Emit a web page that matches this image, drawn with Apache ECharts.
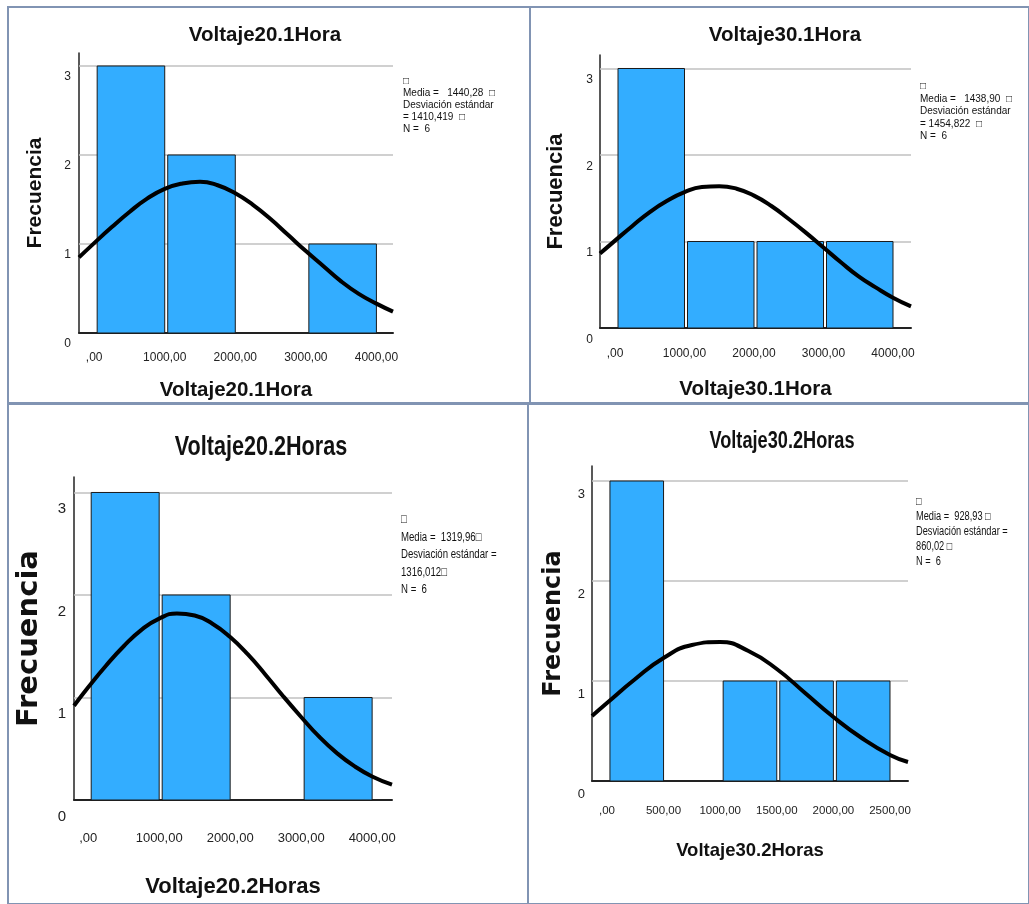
<!DOCTYPE html>
<html>
<head>
<meta charset="utf-8">
<title>Histogramas Voltaje</title>
<script src="https://cdn.jsdelivr.net/npm/echarts@6.0.0/dist/echarts.min.js"></script>
<style>
  html, body { margin: 0; padding: 0; background: #fff; }
  #main { width: 1029px; height: 904px; }
</style>
</head>
<body>
<div id="main"></div>
<script>
// histogram bins: [desde, hasta, frecuencia]
var bins20_1h = [[0, 1000, 3], [1000, 2000, 2], [3000, 4000, 1]]
var bins30_1h = [[0, 1000, 3], [1000, 2000, 1], [2000, 3000, 1], [3000, 4000, 1]]
var bins20_2h = [[0, 1000, 3], [1000, 2000, 2], [3000, 4000, 1]]
var bins30_2h = [[0, 500, 3], [1000, 1500, 1], [1500, 2000, 1], [2000, 2500, 1]]

// normal curve, points
var curve20_1h = [[-215, 0.85], [0, 1.01], [250, 1.19], [500, 1.36], [750, 1.51], [1000, 1.62], [1250, 1.68], [1500, 1.70], [1750, 1.66], [2000, 1.57], [2250, 1.44], [2500, 1.28], [2750, 1.10], [3000, 0.92], [3250, 0.75], [3500, 0.58], [3750, 0.44], [4000, 0.33], [4235, 0.24]]
var curve30_1h = [[-216, 0.86], [0, 1.01], [250, 1.18], [500, 1.34], [750, 1.47], [1000, 1.57], [1250, 1.63], [1500, 1.64], [1750, 1.61], [2000, 1.53], [2250, 1.41], [2500, 1.26], [2750, 1.10], [3000, 0.93], [3250, 0.76], [3500, 0.60], [3750, 0.47], [4000, 0.35], [4259, 0.25]]
var curve20_2h = [[-200, 0.92], [0, 1.10], [250, 1.31], [500, 1.50], [750, 1.66], [1000, 1.77], [1250, 1.82], [1500, 1.80], [1750, 1.72], [2000, 1.59], [2250, 1.42], [2500, 1.22], [2750, 1.01], [3000, 0.81], [3250, 0.62], [3500, 0.46], [3750, 0.33], [4000, 0.23], [4280, 0.15]]
var curve30_2h = [[-132, 0.65], [0, 0.78], [250, 1.02], [500, 1.23], [750, 1.36], [1000, 1.39], [1250, 1.30], [1500, 1.12], [1750, 0.88], [2000, 0.64], [2250, 0.43], [2500, 0.26], [2659, 0.19]]

var ticks4000 = [0, 1000, 2000, 3000, 4000]
var ticks2500 = [0, 500, 1000, 1500, 2000, 2500]
var freqTicks = [0, 1, 2, 3]

var stats20_1h = ['\u25A1', 'Media =   1440,28  \u25A1', 'Desviación estándar', '= 1410,419  \u25A1', 'N =  6']
var stats30_1h = ['\u25A1', 'Media =   1438,90  \u25A1', 'Desviación estándar', '= 1454,822  \u25A1', 'N =  6']
var stats20_2h = ['\u25A1', 'Media =  1319,96\u25A1', 'Desviación estándar =', '1316,012\u25A1', 'N =  6']
var stats30_2h = ['\u25A1', 'Media =  928,93 \u25A1', 'Desviación estándar =', '860,02 \u25A1', 'N =  6']

var SANS = '"Liberation Sans", Arial, sans-serif'
var SPREAD = '"DejaVu Sans", sans-serif'

var panels = [
  {
    name: 'Voltaje20.1Hora', bins: bins20_1h, curve: curve20_1h, ticks: ticks4000, stats: stats20_1h,
    box: [8, 7, 522, 396], grid: { left: 79, top: 53, width: 314, height: 280 },
    xMin: -215, xMax: 4235, yMax: 3.146,
    titleAt: [265, 35], titleFont: 'bold 20.5px ' + SANS, titleScale: 1,
    tickSize: 12, yTickSize: 12, xMargin: 19, yMargin: 8, yLH: 21,
    nameSize: 20.5, nameGap: 47,
    yNameSize: 21, yNameGap: 33, yNameFont: SANS,
    statsAt: [403, 75], statsFont: '10px ' + SANS, statsLH: 12, statsScale: 1
  },
  {
    name: 'Voltaje30.1Hora', bins: bins30_1h, curve: curve30_1h, ticks: ticks4000, stats: stats30_1h,
    box: [530, 7, 499, 396], grid: { left: 600, top: 55, width: 311, height: 273 },
    xMin: -216, xMax: 4259, yMax: 3.156,
    titleAt: [785, 35], titleFont: 'bold 20.5px ' + SANS, titleScale: 1,
    tickSize: 12, yTickSize: 12, xMargin: 20, yMargin: 7, yLH: 23,
    nameSize: 20.5, nameGap: 51,
    yNameSize: 22, yNameGap: 33, yNameFont: SANS,
    statsAt: [920, 80], statsFont: '10px ' + SANS, statsLH: 12.5, statsScale: 1
  },
  {
    name: 'Voltaje20.2Horas', bins: bins20_2h, curve: curve20_2h, ticks: ticks4000, stats: stats20_2h,
    box: [8, 404, 520, 500], grid: { left: 74, top: 477, width: 318, height: 323 },
    xMin: -200, xMax: 4280, yMax: 3.151,
    titleAt: [261, 448], titleFont: 'bold 27px ' + SANS, titleScale: 0.8,
    tickSize: 13, yTickSize: 15, xMargin: 32, yMargin: 8, yLH: 33,
    nameSize: 22, nameGap: 76,
    yNameSize: 29, yNameGap: 30, yNameFont: SPREAD,
    statsAt: [401, 511], statsFont: '12.5px ' + SANS, statsLH: 17.5, statsScale: 0.77
  },
  {
    name: 'Voltaje30.2Horas', bins: bins30_2h, curve: curve30_2h, ticks: ticks2500, stats: stats30_2h,
    box: [528, 404, 501, 500], grid: { left: 592, top: 466, width: 316, height: 315 },
    xMin: -132, xMax: 2659, yMax: 3.15,
    titleAt: [782, 442], titleFont: 'bold 23px ' + SANS, titleScale: 0.79,
    tickSize: 11.5, yTickSize: 13, xMargin: 24, yMargin: 7, yLH: 27,
    nameSize: 18.5, nameGap: 60,
    yNameSize: 24, yNameGap: 26, yNameFont: SPREAD,
    statsAt: [916, 494], statsFont: '12px ' + SANS, statsLH: 15, statsScale: 0.77
  }
]

function renderBin(params, api) {
  var start = api.coord([api.value(0), 0])
  var end = api.coord([api.value(1), api.value(2)])
  return {
    type: 'rect',
    shape: { x: start[0] + 3, y: end[1], width: end[0] - start[0] - 3, height: start[1] - end[1] },
    style: { fill: '#33adff', stroke: '#1a1a1a', lineWidth: 1 }
  }
}

var option = {
  backgroundColor: '#fff',
  animation: false,
  grid: [],
  xAxis: [],
  yAxis: [],
  series: [],
  graphic: []
}

panels.forEach(function (p, i) {
  option.grid.push({
    left: p.grid.left, top: p.grid.top, width: p.grid.width, height: p.grid.height,
    outerBoundsMode: 'none'
  })
  option.xAxis.push({
    type: 'value',
    gridIndex: i,
    min: p.xMin,
    max: p.xMax,
    name: p.name,
    nameLocation: 'middle',
    nameGap: p.nameGap,
    nameMoveOverlap: false,
    nameTextStyle: { fontFamily: SANS, fontSize: p.nameSize, fontWeight: 'bold', color: '#111' },
    axisLine: { onZero: false, lineStyle: { color: '#222', width: 2 } },
    axisTick: { show: false },
    splitLine: { show: false },
    axisLabel: {
      customValues: p.ticks,
      margin: p.xMargin,
      fontFamily: SANS,
      fontSize: p.tickSize,
      lineHeight: p.tickSize,
      color: '#222',
      formatter: function (v) { return (v === 0 ? '' : String(v)) + ',00' }
    }
  })
  option.yAxis.push({
    type: 'value',
    gridIndex: i,
    min: 0,
    max: p.yMax,
    name: 'Frecuencia',
    nameLocation: 'middle',
    nameRotate: 90,
    nameGap: p.yNameGap,
    nameMoveOverlap: false,
    nameTextStyle: { fontFamily: p.yNameFont, fontSize: p.yNameSize, fontWeight: 'bold', color: '#111' },
    axisLine: { show: true, onZero: false, lineStyle: { color: '#222', width: 1.5 } },
    axisTick: { show: false },
    splitLine: { show: false },
    axisLabel: {
      customValues: freqTicks,
      margin: p.yMargin,
      fontFamily: SANS,
      fontSize: p.yTickSize,
      verticalAlign: 'top',
      lineHeight: p.yLH,
      color: '#222'
    }
  })
  option.series.push({
    type: 'custom',
    xAxisIndex: i,
    yAxisIndex: i,
    z: 2,
    renderItem: renderBin,
    encode: { x: [0, 1], y: 2 },
    data: p.bins,
    markLine: {
      silent: true,
      z: 1,
      symbol: 'none',
      label: { show: false },
      lineStyle: { color: '#c0c0c0', width: 1.5, type: 'solid' },
      data: freqTicks.slice(1).map(function (v) { return { yAxis: v } })
    }
  })
  option.series.push({
    type: 'line',
    xAxisIndex: i,
    yAxisIndex: i,
    z: 3,
    smooth: true,
    showSymbol: false,
    lineStyle: { color: '#000', width: 4 },
    data: p.curve
  })
  option.graphic.push({
    type: 'rect',
    shape: { x: p.box[0], y: p.box[1], width: p.box[2], height: p.box[3] },
    style: { fill: 'none', stroke: '#8194b3', lineWidth: 2 },
    z: 0
  })
  option.graphic.push({
    type: 'text',
    x: p.titleAt[0],
    y: p.titleAt[1],
    scaleX: p.titleScale,
    style: { text: p.name, font: p.titleFont, fill: '#111', align: 'center', verticalAlign: 'middle' }
  })
  option.graphic.push({
    type: 'text',
    x: p.statsAt[0],
    y: p.statsAt[1],
    scaleX: p.statsScale,
    style: { text: p.stats.join('\n'), font: p.statsFont, lineHeight: p.statsLH, fill: '#111', align: 'left', verticalAlign: 'top' }
  })
})

var myChart = echarts.init(document.getElementById('main'))
myChart.setOption(option)
</script>
</body>
</html>
